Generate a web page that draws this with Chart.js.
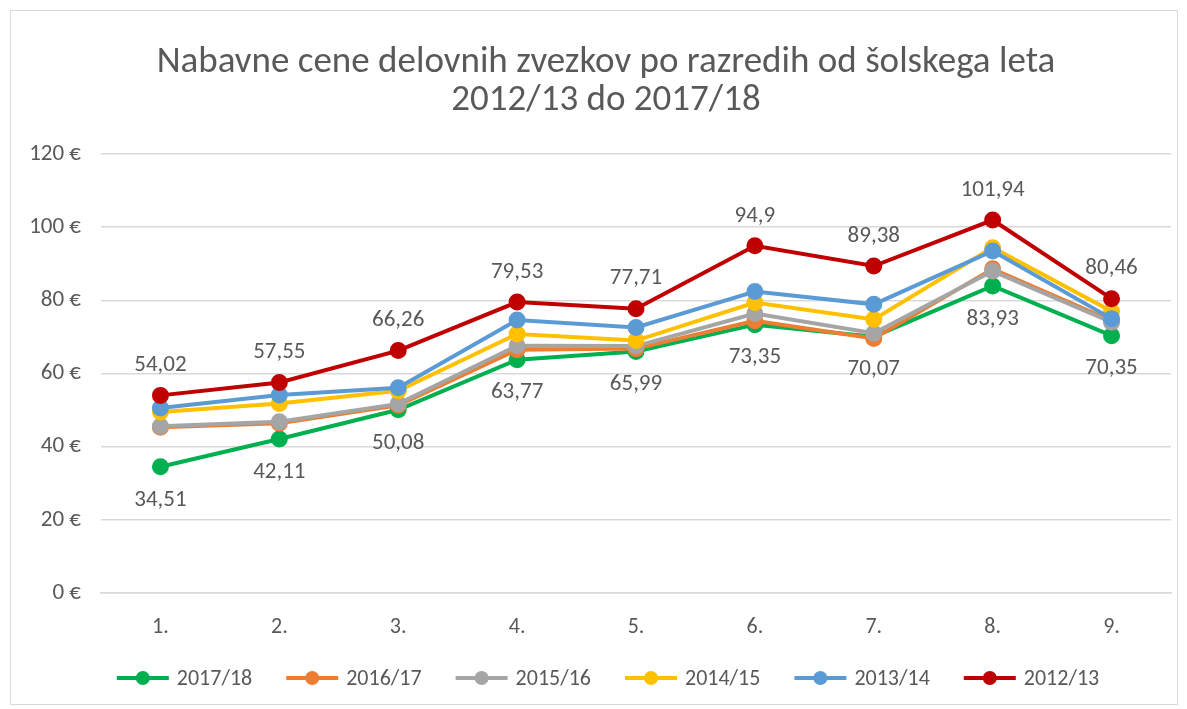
<!DOCTYPE html>
<html lang="sl">
<head>
    <meta charset="UTF-8">
    <title>Nabavne cene delovnih zvezkov</title>
    <script src="https://cdn.jsdelivr.net/npm/chart.js"></script>
    <style>
        body { margin: 0; background: #fff; }
        #wrap { position: relative; width: 1187px; height: 709px; }
    </style>
</head>
<body>
<div id="wrap"><canvas id="chart" width="1187" height="709"></canvas></div>
<script>
    const razredi = ['1.', '2.', '3.', '4.', '5.', '6.', '7.', '8.', '9.'];
    const leta = ['2017/18', '2016/17', '2015/16', '2014/15', '2013/14', '2012/13'];
    const cene1718 = [34.51, 42.11, 50.08, 63.77, 65.99, 73.35, 70.07, 83.93, 70.35];
    const cene1617 = [45.3, 46.4, 51.3, 66.5, 66.8, 74.4, 69.6, 88.6, 74.4];
    const cene1516 = [45.6, 46.8, 51.7, 67.6, 67.5, 76.4, 71.0, 88.0, 74.0];
    const cene1415 = [49.5, 51.8, 55.3, 70.8, 69.0, 79.4, 74.8, 94.4, 77.0];
    const cene1314 = [50.6, 54.1, 56.1, 74.6, 72.6, 82.4, 78.9, 93.5, 75.0];
    const cene1213 = [54.02, 57.55, 66.26, 79.53, 77.71, 94.9, 89.38, 101.94, 80.46];
    const barve = ['#00b050', '#ed7d31', '#a5a5a5', '#ffc000', '#5b9bd5', '#c00000'];
    const vrednosti = [cene1718, cene1617, cene1516, cene1415, cene1314, cene1213];
    const naslov = ['Nabavne cene delovnih zvezkov po razredih od šolskega leta', '2012/13 do 2017/18'];

    const FONT = 'Carlito, "Liberation Sans Narrow", "DejaVu Sans Condensed", sans-serif';
    const GREY = '#595959';
    const MID = 606; // Excel centres title and legend a bit right of the canvas middle

    const fmt = v => String(v).replace('.', ',');

    // frame + title
    const framePlugin = {
        id: 'frame',
        beforeDraw(chart) {
            const c = chart.ctx;
            c.save();
            c.strokeStyle = '#d9d9d9';
            c.lineWidth = 1;
            c.strokeRect(10.5, 10.5, 1167, 694);
            c.font = '37px ' + FONT;
            c.fillStyle = GREY;
            c.textAlign = 'center';
            c.textBaseline = 'middle';
            c.fillText(naslov[0], MID, 63);
            c.fillText(naslov[1], MID, 101);
            c.restore();
        }
    };

    // value labels: above the 2012/13 line, below the 2017/18 line
    const labelPlugin = {
        id: 'vrednosti',
        afterDatasetsDraw(chart) {
            const c = chart.ctx;
            c.save();
            c.font = '23px ' + FONT;
            c.fillStyle = GREY;
            c.textAlign = 'center';
            c.textBaseline = 'middle';
            chart.data.datasets.forEach((ds, i) => {
                if (ds.label !== '2012/13' && ds.label !== '2017/18') return;
                const meta = chart.getDatasetMeta(i);
                const off = ds.label === '2012/13' ? -30 : 33;
                meta.data.forEach((pt, j) => {
                    c.fillText(fmt(ds.data[j]), pt.x, pt.y + off);
                });
            });
            c.restore();
        }
    };

    // legend: line with a dot, then the label
    const legendPlugin = {
        id: 'legenda',
        afterDraw(chart) {
            const c = chart.ctx;
            const y = 678, lineW = 52, gap = 8, space = 34;
            c.save();
            c.font = '22px ' + FONT;
            c.textBaseline = 'middle';
            c.textAlign = 'left';
            const widths = leta.map(t => c.measureText(t).width);
            const total = widths.reduce((a, w) => a + lineW + gap + w, 0) + space * (leta.length - 1);
            let x = 608 - total / 2;
            leta.forEach((t, i) => {
                c.strokeStyle = barve[i];
                c.fillStyle = barve[i];
                c.lineWidth = 4;
                c.beginPath();
                c.moveTo(x, y);
                c.lineTo(x + lineW, y);
                c.stroke();
                c.beginPath();
                c.arc(x + lineW / 2, y, 7, 0, Math.PI * 2);
                c.fill();
                c.fillStyle = GREY;
                c.fillText(t, x + lineW + gap, y + 1);
                x += lineW + gap + widths[i] + space;
            });
            c.restore();
        }
    };

    const datasets = leta.map((leto, i) => ({
        label: leto,
        data: vrednosti[i],
        borderColor: barve[i],
        backgroundColor: barve[i],
        pointBackgroundColor: barve[i],
        pointBorderColor: barve[i],
        borderWidth: 4,
        pointRadius: 6.5,
        pointHoverRadius: 6.5,
        fill: false,
        tension: 0,
        order: leta.length - 1 - i
    }));

    new Chart(document.getElementById('chart'), {
        type: 'line',
        data: { labels: razredi, datasets },
        plugins: [framePlugin, labelPlugin, legendPlugin],
        options: {
            responsive: false,
            animation: false,
            layout: { padding: { left: 11, right: 16, top: 154, bottom: 66 } },
            plugins: {
                title: { display: false },
                legend: { display: false },
                tooltip: { enabled: false }
            },
            scales: {
                x: {
                    offset: true,
                    afterFit(scale) { scale.height = 50; },
                    grid: { display: false },
                    border: { display: true, color: '#d9d9d9', width: 1.5 },
                    ticks: { color: GREY, font: { family: FONT, size: 22 }, padding: 13 }
                },
                y: {
                    min: 0,
                    max: 120,
                    afterFit(scale) { scale.width = 90; },
                    grid: { color: '#d9d9d9', lineWidth: 1.5, drawTicks: false },
                    border: { display: false },
                    ticks: {
                        stepSize: 20,
                        color: GREY,
                        padding: 20,
                        font: { family: FONT, size: 23 },
                        callback: v => v + ' €'
                    }
                }
            }
        }
    });
</script>
</body>
</html>
